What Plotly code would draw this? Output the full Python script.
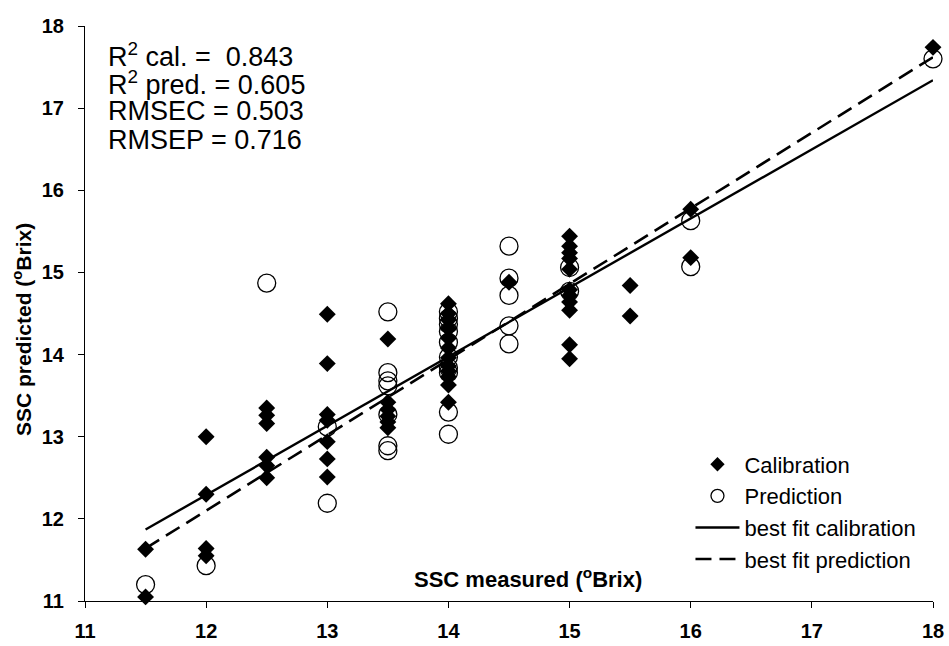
import plotly.graph_objects as go

# Calibration set: measured vs predicted SSC (°Brix)
cal_measured = [11.5, 11.5,
                12, 12, 12, 12,
                12.5, 12.5, 12.5, 12.5, 12.5, 12.5,
                13, 13, 13, 13, 13, 13, 13,
                13.5, 13.5, 13.5, 13.5, 13.5, 13.5,
                14, 14, 14, 14, 14, 14, 14, 14, 14, 14, 14, 14,
                14.5,
                15, 15, 15, 15, 15, 15, 15, 15, 15, 15, 15,
                15.5, 15.5,
                16, 16,
                18]
cal_predicted = [11.63, 11.05,
                 13.00, 12.30, 11.64, 11.55,
                 13.35, 13.26, 13.16, 12.75, 12.65, 12.50,
                 14.49, 13.89, 13.27, 13.20, 12.94, 12.73, 12.51,
                 14.19, 13.42, 13.33, 13.25, 13.18, 13.11,
                 14.62, 14.50, 14.42, 14.32, 14.20, 14.08, 13.96, 13.86, 13.80, 13.73, 13.63, 13.42,
                 14.88,
                 15.44, 15.32, 15.24, 15.17, 15.04, 14.79, 14.72, 14.64, 14.54, 14.12, 13.95,
                 14.84, 14.47,
                 15.77, 15.18,
                 17.74]

# Prediction (validation) set
pred_measured = [11.5,
                 12,
                 12.5,
                 13, 13,
                 13.5, 13.5, 13.5, 13.5, 13.5, 13.5, 13.5,
                 14, 14, 14, 14, 14, 14, 14, 14, 14, 14,
                 14.5, 14.5, 14.5, 14.5, 14.5,
                 15, 15,
                 16, 16,
                 18]
pred_predicted = [11.20,
                  11.43,
                  14.87,
                  13.12, 12.19,
                  14.52, 13.78, 13.68, 13.62, 13.27, 12.89, 12.83,
                  14.52, 14.44, 14.37, 14.28, 14.15, 13.97, 13.84, 13.78, 13.30, 13.03,
                  15.32, 14.93, 14.72, 14.35, 14.13,
                  15.06, 14.77,
                  15.63, 15.07,
                  17.60]

# Best-fit line end points
fit_x = [11.5, 18]
cal_fit_y = [11.87, 17.34]
pred_fit_y = [11.64, 17.62]

stats_lines = ["R<sup>2</sup> cal. =  0.843",
               "R<sup>2</sup> pred. = 0.605",
               "RMSEC = 0.503",
               "RMSEP = 0.716"]

axis_ticks = [11, 12, 13, 14, 15, 16, 17, 18]

FONT = "Arial, Liberation Sans, sans-serif"
BLACK = "#000000"

fig = go.Figure()

fig.add_trace(go.Scatter(
    x=pred_measured, y=pred_predicted, mode="markers", showlegend=False,
    marker=dict(symbol="circle-open", size=18, color=BLACK, line=dict(width=1.3, color=BLACK)),
    cliponaxis=False))

fig.add_trace(go.Scatter(
    x=fit_x, y=cal_fit_y, mode="lines", name="best fit calibration",
    line=dict(color=BLACK, width=2.4), legendrank=3, cliponaxis=False))

fig.add_trace(go.Scatter(
    x=fit_x, y=pred_fit_y, mode="lines", name="best fit prediction",
    line=dict(color=BLACK, width=2.6, dash="16px,8px"), legendrank=4, cliponaxis=False))

fig.add_trace(go.Scatter(
    x=cal_measured, y=cal_predicted, mode="markers", showlegend=False,
    marker=dict(symbol="diamond", size=13, color=BLACK, line=dict(width=0)),
    cliponaxis=False))

# Legend entries for the two point sets (smaller symbols than the plotted points)
fig.add_trace(go.Scatter(
    x=[None], y=[None], mode="markers", name="Calibration", legendrank=1,
    marker=dict(symbol="diamond", size=11, color=BLACK)))
fig.add_trace(go.Scatter(
    x=[None], y=[None], mode="markers", name="Prediction", legendrank=2,
    marker=dict(symbol="circle-open", size=13, color=BLACK, line=dict(width=1.3, color=BLACK))))

axis_common = dict(
    range=[11, 18], tickvals=axis_ticks, showgrid=False, zeroline=False,
    showline=True, linecolor=BLACK, linewidth=1.2, ticks="outside", ticklen=6,
    tickwidth=1.2, tickcolor=BLACK, automargin=False,
    tickfont=dict(family=FONT, size=20, color=BLACK, weight="bold"),
)

fig.update_layout(
    width=949, height=646,
    margin=dict(l=85, r=16, t=26, b=45),
    paper_bgcolor="white", plot_bgcolor="white",
    font=dict(family=FONT, color=BLACK),
    xaxis=dict(**axis_common, ticklabelstandoff=6),
    yaxis=dict(**axis_common, ticklabelstandoff=10),
    legend=dict(
        x=0.714, y=0.274, xanchor="left", yanchor="top",
        font=dict(family=FONT, size=22, color=BLACK),
        bgcolor="rgba(0,0,0,0)", borderwidth=0, itemwidth=44,
        traceorder="normal",
    ),
)

# Statistics block in the upper-left corner
stats_y = [0.9496, 0.9009, 0.852, 0.8017]
for txt, yy in zip(stats_lines, stats_y):
    fig.add_annotation(
        text=txt, xref="paper", yref="paper", x=0.0248, y=yy,
        xanchor="left", yanchor="middle", showarrow=False,
        font=dict(family=FONT, size=27, color=BLACK))

# Axis titles
fig.add_annotation(
    text="SSC measured (<sup>o</sup>Brix)", xref="paper", yref="paper",
    x=0.522, y=0.04, xanchor="center", yanchor="middle", showarrow=False,
    font=dict(family=FONT, size=22, color=BLACK, weight="bold"))
fig.add_annotation(
    text="SSC predicted (<sup>o</sup>Brix)", xref="paper", yref="paper",
    x=-0.0743, y=0.473, xanchor="center", yanchor="middle", showarrow=False,
    textangle=-90,
    font=dict(family=FONT, size=21, color=BLACK, weight="bold"))

fig.write_html("out.html")
